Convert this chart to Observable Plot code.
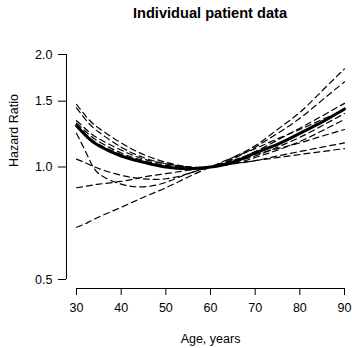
<!DOCTYPE html>
<html>
<head>
<meta charset="utf-8">
<script src="https://cdn.jsdelivr.net/npm/d3@7"></script>
<script src="https://cdn.jsdelivr.net/npm/@observablehq/plot@0.6"></script>
<style>
  html, body { margin: 0; padding: 0; background: #fff; }
  #title { height: 30px; width: 352px; box-sizing: border-box; padding-left: 68px; padding-top: 5px;
           font: bold 14.6px "Liberation Sans", Arial, Helvetica, sans-serif; line-height: 17px; text-align: center; color: #000; }
  svg { display: block; }
</style>
</head>
<body>
<div id="title">Individual patient data</div>
<div id="chart"></div>
<script>
const ages = [30, 32.5, 35, 40, 45, 50, 55, 60, 65, 70, 75, 80, 85, 90];
const pooled = [1.29, 1.20, 1.14, 1.07, 1.03, 1.00, 0.99, 1.00, 1.03, 1.09, 1.15, 1.23, 1.32, 1.43];
const studyA = [1.47, 1.35, 1.27, 1.16, 1.08, 1.03, 1.00, 1.00, 1.06, 1.14, 1.26, 1.40, 1.60, 1.83];
const studyB = [1.44, 1.32, 1.24, 1.13, 1.06, 1.02, 1.00, 1.00, 1.05, 1.13, 1.23, 1.35, 1.51, 1.69];
const studyC = [1.33, 1.25, 1.19, 1.11, 1.05, 1.02, 1.00, 1.00, 1.04, 1.10, 1.18, 1.27, 1.37, 1.48];
const studyD = [1.31, 1.23, 1.17, 1.09, 1.04, 1.01, 1.00, 1.00, 1.03, 1.07, 1.13, 1.20, 1.29, 1.39];
const studyE = [1.30, 1.21, 1.15, 1.08, 1.03, 1.00, 0.99, 1.00, 1.02, 1.06, 1.11, 1.17, 1.25, 1.34];
const studyF = [1.23, 1.07, 0.96, 0.90, 0.885, 0.91, 0.96, 1.00, 1.04, 1.08, 1.12, 1.16, 1.21, 1.26];
const studyG = [1.05, 1.02, 0.99, 0.95, 0.93, 0.93, 0.96, 1.00, 1.02, 1.04, 1.07, 1.10, 1.13, 1.16];
const studyH = [0.88, 0.89, 0.90, 0.915, 0.94, 0.96, 0.98, 1.00, 1.02, 1.04, 1.06, 1.08, 1.10, 1.12];
const studyI = [0.69, 0.71, 0.735, 0.78, 0.83, 0.88, 0.94, 1.00, 1.06, 1.12, 1.19, 1.26, 1.34, 1.42];
const xTicks = [30, 40, 50, 60, 70, 80, 90];
const yTicks = [0.5, 1.0, 1.5, 2.0];
const xLabel = "Age, years";
const yLabel = "Hazard Ratio";

const studies = {A: studyA, B: studyB, C: studyC, D: studyD, E: studyE, F: studyF, G: studyG, H: studyH, I: studyI};
const dashedRows = [];
for (const [k, vals] of Object.entries(studies)) {
  vals.forEach((v, i) => dashedRows.push({study: k, age: ages[i], hr: v}));
}
const pooledRows = pooled.map((v, i) => ({age: ages[i], hr: v}));

const font = '"Liberation Sans", Arial, Helvetica, sans-serif';

const chart = Plot.plot({
  width: 352,
  height: 318,
  marginLeft: 76,
  marginRight: 8,
  marginTop: 24,
  marginBottom: 69,
  style: {fontFamily: font, fontSize: "12.5px", color: "#000", background: "#fff"},
  x: {domain: [30, 90]},
  y: {type: "log", domain: [0.5, 2.0]},
  marks: [
    Plot.ruleX([30], {y1: 0.5, y2: 2.0, dx: -10, stroke: "#000", strokeWidth: 1}),
    Plot.ruleY([0.5], {x1: 30, x2: 90, dy: 9, stroke: "#000", strokeWidth: 1}),
    Plot.axisY({ticks: yTicks, tickFormat: d3.format(".1f"), tickSize: 8, tickPadding: 6, dx: -10, label: null, fontSize: 12.5}),
    Plot.axisX({ticks: xTicks, tickSize: 7, tickPadding: 8, dy: 9, label: null, fontSize: 12.5}),
    Plot.text([yLabel], {frameAnchor: "left", rotate: -90, dx: -63, fontSize: 12.5, fill: "#000"}),
    Plot.text([xLabel], {frameAnchor: "bottom", dy: 63, fontSize: 12.5, fill: "#000"}),
    Plot.line(dashedRows, {x: "age", y: "hr", z: "study", curve: "natural", stroke: "#000", strokeWidth: 1.2, strokeDasharray: "6,4"}),
    Plot.line(pooledRows, {x: "age", y: "hr", curve: "natural", stroke: "#000", strokeWidth: 3})
  ]
});
document.getElementById("chart").appendChild(chart);
</script>
</body>
</html>
